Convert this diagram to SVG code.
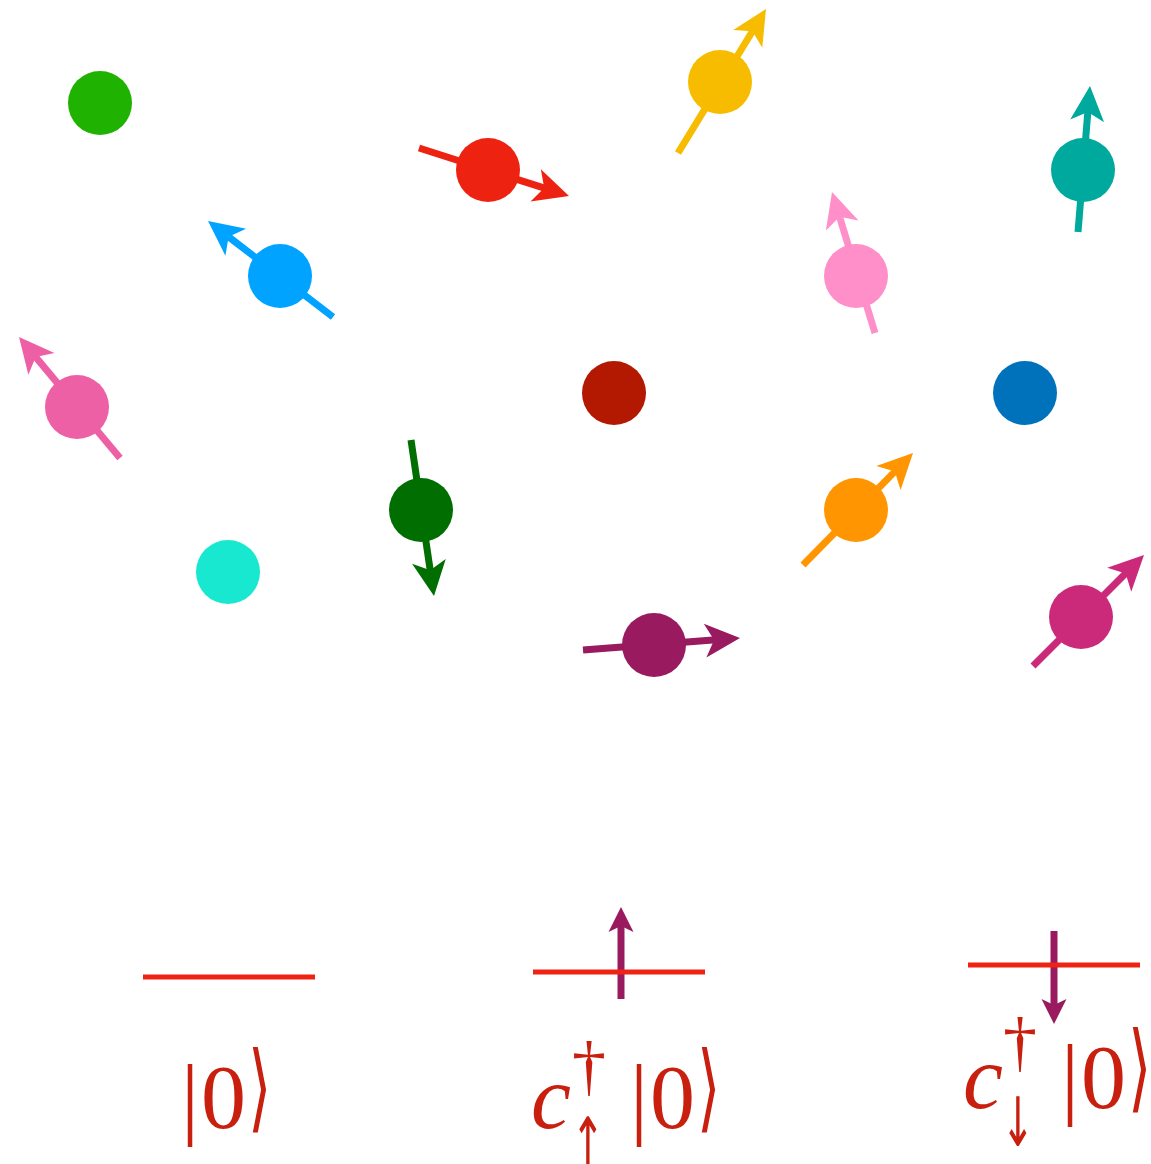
<svg xmlns="http://www.w3.org/2000/svg" xmlns:xlink="http://www.w3.org/1999/xlink" width="1151" height="1164" viewBox="0 0 1151 1164">
<style>
.sh{stroke-width:7;fill:none}
.lv{stroke:#ee2313;stroke-width:5;fill:none}
.tx{fill:#c81f0e;font-family:"Liberation Serif","DejaVu Serif",serif}
.it{font-style:italic}
.ar{fill:#c81f0e;font-family:"DejaVu Sans",sans-serif;text-anchor:middle}
.br{fill:#c81f0e;font-family:"DejaVu Sans",sans-serif}
</style>
<defs>
<path id="ah" d="M0,0 L-35,-17 L-26,0 L-35,17 Z"/>
<path id="ahs" d="M0,0 L-25,-12.5 L-19,0 L-25,12.5 Z"/>
</defs>
<rect width="1151" height="1164" fill="#ffffff"/>
<g id="connectors">
<g id="spin-red" stroke="#ee2211" fill="#ee2211"><line class="sh" x1="419" y1="148" x2="546.1" y2="188.7"/><use xlink:href="#ah" stroke="none" transform="translate(569,196) rotate(17.74)"/></g>
<g id="spin-yellow" stroke="#f7bc00" fill="#f7bc00"><line class="sh" x1="678" y1="153" x2="753.5" y2="29.5"/><use xlink:href="#ah" stroke="none" transform="translate(766,9) rotate(-58.57)"/></g>
<g id="spin-blue" stroke="#00a3ff" fill="#00a3ff"><line class="sh" x1="333" y1="317" x2="227" y2="235.6"/><use xlink:href="#ah" stroke="none" transform="translate(208,221) rotate(-142.48)"/></g>
<g id="spin-pink" stroke="#ee60a5" fill="#ee60a5"><line class="sh" x1="120" y1="458" x2="34.4" y2="355.4"/><use xlink:href="#ah" stroke="none" transform="translate(19,337) rotate(-129.85)"/></g>
<g id="spin-lightpink" stroke="#ff8fc8" fill="#ff8fc8"><line class="sh" x1="875" y1="333" x2="839" y2="215"/><use xlink:href="#ah" stroke="none" transform="translate(832,192) rotate(-106.96)"/></g>
<g id="spin-teal" stroke="#00a99d" fill="#00a99d"><line class="sh" x1="1078" y1="232" x2="1088" y2="109.9"/><use xlink:href="#ah" stroke="none" transform="translate(1090,86) rotate(-85.3)"/></g>
<g id="spin-darkgreen" stroke="#006e00" fill="#006e00"><line class="sh" x1="411" y1="440" x2="430.5" y2="572.3"/><use xlink:href="#ah" stroke="none" transform="translate(434,596) rotate(81.61)"/></g>
<g id="spin-orange" stroke="#ff9500" fill="#ff9500"><line class="sh" x1="803" y1="565" x2="896.2" y2="470.1"/><use xlink:href="#ah" stroke="none" transform="translate(913,453) rotate(-45.52)"/></g>
<g id="spin-purple" stroke="#991a5e" fill="#991a5e"><line class="sh" x1="583" y1="650" x2="716.1" y2="639.8"/><use xlink:href="#ah" stroke="none" transform="translate(740,638) rotate(-4.37)"/></g>
<g id="spin-magenta" stroke="#cb2a7b" fill="#cb2a7b"><line class="sh" x1="1033" y1="666" x2="1127" y2="572"/><use xlink:href="#ah" stroke="none" transform="translate(1144,555) rotate(-45)"/></g>
<g id="level-up-arrow" stroke="#991a5e" fill="#991a5e"><line class="sh" x1="621" y1="999" x2="621" y2="924"/><use xlink:href="#ahs" stroke="none" transform="translate(621,907) rotate(-90)"/></g>
<g id="level-down-arrow" stroke="#991a5e" fill="#991a5e"><line class="sh" x1="1054" y1="931" x2="1054" y2="1007"/><use xlink:href="#ahs" stroke="none" transform="translate(1054,1024) rotate(90)"/></g>
</g>
<g id="particle-green"><circle cx="100" cy="103" r="32" fill="#20b200"/></g>
<g id="particle-red"><circle cx="488" cy="170" r="32" fill="#ee2211"/></g>
<g id="particle-yellow"><circle cx="720" cy="82" r="32" fill="#f7bc00"/></g>
<g id="particle-blue"><circle cx="280" cy="276" r="32" fill="#00a3ff"/></g>
<g id="particle-pink"><circle cx="77" cy="407" r="32" fill="#ee60a5"/></g>
<g id="particle-lightpink"><circle cx="856" cy="276" r="32" fill="#ff8fc8"/></g>
<g id="particle-teal"><circle cx="1083" cy="170" r="32" fill="#00a99d"/></g>
<g id="particle-darkred"><circle cx="614" cy="393" r="32" fill="#b31800"/></g>
<g id="particle-steelblue"><circle cx="1025" cy="393" r="32" fill="#0072bb"/></g>
<g id="particle-darkgreen"><circle cx="421" cy="510" r="32" fill="#006e00"/></g>
<g id="particle-cyan"><circle cx="228" cy="572" r="32" fill="#18e8d0"/></g>
<g id="particle-orange"><circle cx="856" cy="510" r="32" fill="#ff9500"/></g>
<g id="particle-purple"><circle cx="654" cy="645" r="32" fill="#991a5e"/></g>
<g id="particle-magenta"><circle cx="1081" cy="617" r="32" fill="#cb2a7b"/></g>
<g id="level-empty">
<line class="lv" x1="143" y1="977" x2="315" y2="977"/>
<text class="tx" font-size="90" y="1128"><tspan x="181">|</tspan><tspan x="201">0</tspan></text>
<text class="br" font-size="60" transform="translate(248,1120) scale(1,1.6)">⟩</text>
</g>
<g id="level-up">
<line class="lv" x1="533" y1="972" x2="705" y2="972"/>
<text class="tx it" font-size="90" x="531" y="1128">c</text>
<text class="tx" font-size="68" x="572" y="1088">†</text>
<text class="ar" font-size="40" transform="translate(588,1166) scale(1,1.7)">↑</text>
<text class="tx" font-size="90" y="1128"><tspan x="630">|</tspan><tspan x="650">0</tspan></text>
<text class="br" font-size="60" transform="translate(697,1120) scale(1,1.6)">⟩</text>
</g>
<g id="level-down">
<line class="lv" x1="968" y1="965" x2="1140" y2="965"/>
<text class="tx it" font-size="90" x="963" y="1108">c</text>
<text class="tx" font-size="68" x="1003" y="1064">†</text>
<text class="ar" font-size="40" transform="translate(1018,1146) scale(1,1.7)">↓</text>
<text class="tx" font-size="90" y="1108"><tspan x="1061">|</tspan><tspan x="1081">0</tspan></text>
<text class="br" font-size="60" transform="translate(1128,1100) scale(1,1.6)">⟩</text>
</g>
</svg>
